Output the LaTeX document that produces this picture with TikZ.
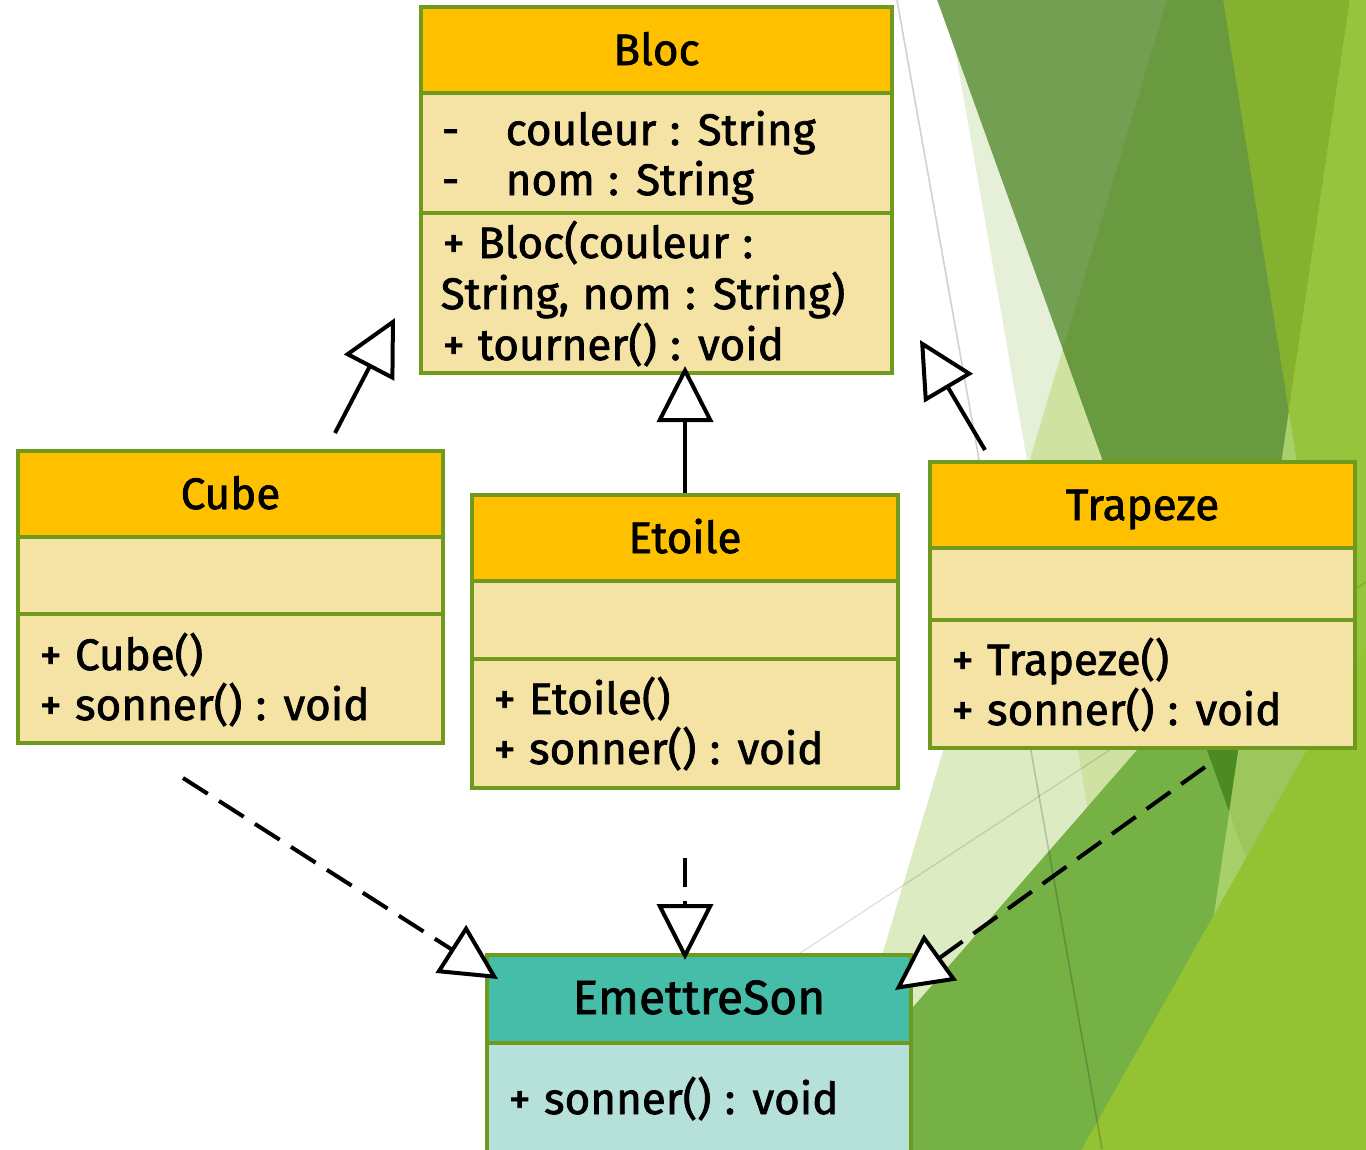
\documentclass[tikz,border=0pt]{standalone}
\usepackage{fontspec}
\setmainfont{Fira Sans}[FakeBold=1.6, WordSpace=1.15]
\usetikzlibrary{arrows.meta}

\definecolor{hdr}{HTML}{FFC000}
\definecolor{cbody}{HTML}{F5E2A5}
\definecolor{edge}{HTML}{6F9A1E}
\definecolor{ifhdr}{HTML}{45BDA8}
\definecolor{ifbody}{HTML}{B6E0DA}
\definecolor{leafP}{HTML}{E6F0D8}
\definecolor{leafB}{HTML}{DDEBC2}
\definecolor{leafBP}{HTML}{CFE2A1}
\definecolor{leafA}{HTML}{739F53}
\definecolor{leafAB}{HTML}{6A9A3F}
\definecolor{leafC}{HTML}{76B146}
\definecolor{leafAC}{HTML}{4E8A24}
\definecolor{leafF}{HTML}{84B22F}
\definecolor{leafE}{HTML}{A7D06B}
\definecolor{leafEC}{HTML}{9DC75C}
\definecolor{leafEF}{HTML}{96C43C}
\definecolor{leafD}{HTML}{93C232}

\tikzset{
	box/.style={draw=edge, line width=3pt},
	ttl/.style={anchor=base, font=\fontsize{33}{40}\selectfont},
	txt/.style={anchor=base west, font=\fontsize{33}{40}\selectfont},
	gen/.style={line width=3pt, -{Triangle[length=42pt, width=42pt, open, fill=white]}},
	real/.style={gen, dash pattern=on 22pt off 10pt},
}

% class box: [header][body](left,top)(right,bottom)(header bottom,attributes bottom)
\def\umlbox[#1][#2](#3,#4)(#5,#6)(#7,#8){%
	\fill[#1] (#3,#4) rectangle (#5,#7);
	\fill[#2] (#3,#7) rectangle (#5,#6);
	\draw[box] (#3,#7) -- (#5,#7);
	\draw[box] (#3,#8) -- (#5,#8);
	\draw[box] (#3,#4) rectangle (#5,#6);}

\begin{document}
\begin{tikzpicture}[x=0.75pt, y=-0.75pt]
			%%%%% START %%%%%
			\useasboundingbox (0,0) rectangle (1366,1149);
			\clip (0,0) rectangle (1366,1149);
			\fill[white] (0,0) rectangle (1366,1149);
			
			% leaves in the back
			\fill[leafP] (943,-20) -- (1500,-20) -- (1500,1170) -- (1151,1170) -- cycle;
			\fill[leafB] (1173,-20) -- (1500,-20) -- (1500,1170) -- (818,1170) -- cycle;
			\begin{scope}
				\clip (1173,-20) -- (1500,-20) -- (1500,1170) -- (818,1170) -- cycle;
				\fill[leafBP] (943,-20) -- (1500,-20) -- (1500,1170) -- (1151,1170) -- cycle;
			\end{scope}
			\fill[leafA] (930,-20) -- (1500,-20) -- (1500,1170) -- (1358,1170) -- cycle;
			\begin{scope}
				\clip (930,-20) -- (1500,-20) -- (1500,1170) -- (1358,1170) -- cycle;
				\fill[leafAB] (1173,-20) -- (1500,-20) -- (1500,1170) -- (818,1170) -- cycle;
			\end{scope}
			\fill[leafC] (1442,400) -- (1500,400) -- (1500,1170) -- (771,1170) -- cycle;
			\begin{scope}
				\clip (930,-20) -- (1500,-20) -- (1500,1170) -- (1358,1170) -- cycle;
				\fill[leafAC] (1442,400) -- (1500,400) -- (1500,1170) -- (771,1170) -- cycle;
			\end{scope}
			\fill[leafF] (1220,-20) -- (1500,-20) -- (1500,1170) -- (1410,1170) -- cycle;
			\fill[leafE] (1353,-20) -- (1500,-20) -- (1500,1170) -- (1176,1170) -- cycle;
			\begin{scope}
				\clip (1353,-20) -- (1500,-20) -- (1500,1170) -- (1176,1170) -- cycle;
				\clip (930,-20) -- (1500,-20) -- (1500,1170) -- (1358,1170) -- cycle;
				\fill[leafEC] (1442,400) -- (1500,400) -- (1500,1170) -- (771,1170) -- cycle;
			\end{scope}
			\begin{scope}
				\clip (1353,-20) -- (1500,-20) -- (1500,1170) -- (1176,1170) -- cycle;
				\fill[leafEF] (1220,-20) -- (1500,-20) -- (1500,1170) -- (1410,1170) -- cycle;
			\end{scope}
			\fill[leafD] (1448,500) -- (1500,500) -- (1500,1170) -- (1070,1170) -- cycle;
			
			\draw[line width=1.2pt, black, opacity=.18] (897,0) -- (1102,1149);
			\draw[line width=1pt, black, opacity=.12] (797,955) -- (1366,582);
			
			% classes
			\umlbox[hdr][cbody](421,7)(892,373)(93,213)
			\node[ttl] (bloc) at (656.5,65) {Bloc};
			\node[txt] (bloc-a1) at (437,145) {\makebox[48pt][l]{-}couleur : String};
			\node[txt] (bloc-a2) at (437,195) {\makebox[48pt][l]{-}nom : String};
			\node[txt] (bloc-m1) at (438,258) {+ Bloc(couleur :};
			\node[txt] (bloc-m2) at (436,309) {String, nom : String)};
			\node[txt] (bloc-m3) at (438,360) {+ tourner() : void};
			
			\umlbox[hdr][cbody](18,451)(443,743)(537,614)
			\node[ttl] (cube) at (230.5,509) {Cube};
			\node[txt] (cube-m1) at (35,670) {+ Cube()};
			\node[txt] (cube-m2) at (35,720) {+ sonner() : void};
			
			\umlbox[hdr][cbody](472,495)(898,788)(581,659)
			\node[ttl] (etoile) at (685,553) {Etoile};
			\node[txt] (etoile-m1) at (489,714) {+ Etoile()};
			\node[txt] (etoile-m2) at (489,764) {+ sonner() : void};
			
			\umlbox[hdr][cbody](930,462)(1355,748)(548,620)
			\node[ttl] (trapeze) at (1142.5,520) {Trapeze};
			\node[txt] (trapeze-m1) at (947,675) {+ Trapeze()};
			\node[txt] (trapeze-m2) at (947,725) {+ sonner() : void};
			
			\umlbox[ifhdr][ifbody](487,955)(911,1170)(1043,1043)
			\node[ttl, font=\fontsize{36}{40}\selectfont] (son) at (699,1014) {EmettreSon};
			\node[txt] (son-m1) at (504,1114) {+ sonner() : void};
			
			% inheritance
			\coordinate (cube-up) at (335,433);
			\coordinate (bloc-l) at (395,318);
			\coordinate (etoile-up) at (685,493);
			\coordinate (bloc-b) at (685,366);
			\coordinate (trapeze-up) at (985,450);
			\coordinate (bloc-r) at (920,340);
			\draw[gen] (cube-up) -- (bloc-l);
			\draw[gen] (etoile-up) -- (bloc-b);
			\draw[gen] (trapeze-up) -- (bloc-r);
			
			% realisation
			\coordinate (cube-down) at (183,778);
			\coordinate (son-l) at (498,979);
			\coordinate (etoile-down) at (685,858);
			\coordinate (son-t) at (685,960);
			\coordinate (trapeze-down) at (1205,767);
			\coordinate (son-r) at (895,990);
			\draw[real] (cube-down) -- (son-l);
			\draw[real] (etoile-down) -- (son-t);
			\draw[real] (trapeze-down) -- (son-r);
			%%%%% END %%%%%
\end{tikzpicture}
\end{document}
